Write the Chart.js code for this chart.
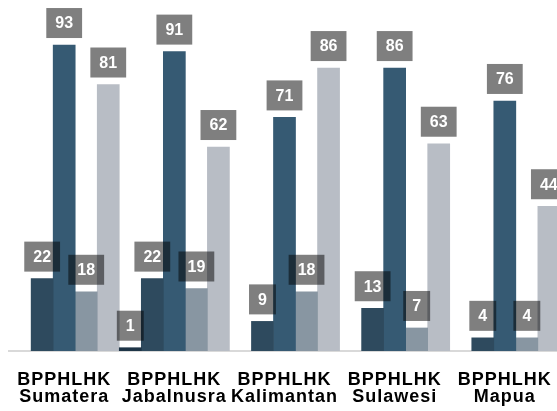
<!DOCTYPE html>
<html>
<head>
<meta charset="utf-8">
<script src="https://cdn.jsdelivr.net/npm/chart.js@4/dist/chart.umd.min.js"></script>
<style>
  html, body { margin: 0; padding: 0; overflow: hidden; background: #fff; }
  #wrap { width: 569px; height: 411px; }
</style>
</head>
<body>
<div id="wrap"><canvas id="chart" width="569" height="411"></canvas></div>
<script>
// Kategorien (zweizeilig)
const regions = ['Sumatera', 'Jabalnusra', 'Kalimantan', 'Sulawesi', 'Mapua'];
const unitLabel = 'BPPHLHK';

// Werte je Serie
const serie1 = [null, 1, null, null, null];
const serie2 = [22, 22, 9, 13, 4];
const serie3 = [93, 91, 71, 86, 76];
const serie4 = [18, 19, 18, 7, 4];
const serie5 = [81, 62, 86, 63, 44];

const colors = ['#1e3547', '#2e4a5e', '#365a73', '#8896a2', '#b8bdc5'];

// etwas Sperrung fuer die Achsenbeschriftung
const letterSpace = {
    id: 'letterSpace',
    beforeDraw(chart) { chart.ctx.letterSpacing = '1px'; },
    beforeDatasetsDraw(chart) { chart.ctx.letterSpacing = '0px'; }
};

// Wert-Boxen ueber den Balken
const valueBoxes = {
    id: 'valueBoxes',
    afterDatasetsDraw(chart) {
        const ctx = chart.ctx;
        ctx.save();
        ctx.letterSpacing = '0px';
        ctx.font = 'bold 16px "Liberation Sans", Arial, sans-serif';
        ctx.textAlign = 'center';
        ctx.textBaseline = 'middle';
        chart.data.datasets.forEach((ds, i) => {
            const meta = chart.getDatasetMeta(i);
            meta.data.forEach((bar, j) => {
                const v = ds.data[j];
                if (v === null || v === undefined) return;
                const txt = String(v);
                const w = ctx.measureText(txt).width + 18;
                const h = 30;
                const bottom = bar.y - 7;
                ctx.fillStyle = 'rgba(0,0,0,0.5)';
                ctx.fillRect(bar.x - w / 2, bottom - h, w, h);
                ctx.fillStyle = '#ffffff';
                ctx.fillText(txt, bar.x, bottom - h / 2 + 1);
            });
        });
        ctx.restore();
    }
};

new Chart(document.getElementById('chart'), {
    type: 'bar',
    data: {
        labels: regions.map(r => [unitLabel, r]),
        datasets: [serie1, serie2, serie3, serie4, serie5].map((d, i) => ({
            label: 'Serie ' + (i + 1),
            data: d,
            backgroundColor: colors[i],
            borderWidth: 0,
            categoryPercentage: 1,
            barPercentage: 1
        }))
    },
    options: {
        responsive: false,
        animation: false,
        layout: { padding: { left: 8, right: 8, top: 22, bottom: 0 } },
        plugins: {
            legend: { display: false },
            tooltip: { enabled: false }
        },
        scales: {
            x: {
                afterFit(scale) { scale.height = 60; },
                grid: { display: false, drawTicks: false },
                border: { display: true, color: '#d9d9d9', width: 2 },
                ticks: {
                    color: '#000',
                    padding: 20,
                    maxRotation: 0,
                    autoSkip: false,
                    font: { family: '"Liberation Sans", Arial, sans-serif', size: 18, weight: 'bold', lineHeight: 0.95 }
                }
            },
            y: {
                display: false,
                min: 0,
                max: 100
            }
        }
    },
    plugins: [letterSpace, valueBoxes]
});
</script>
</body>
</html>
